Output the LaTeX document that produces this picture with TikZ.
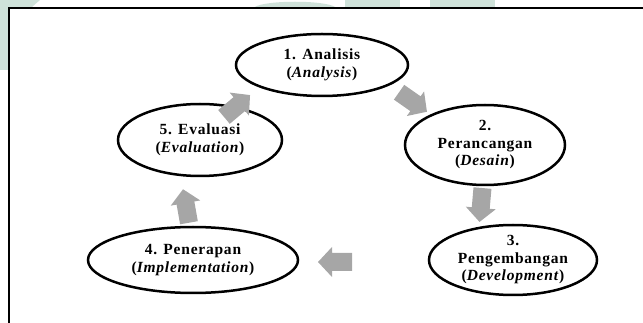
\documentclass[tikz,border=0pt]{standalone}
\usepackage{fontspec}
\setmainfont{Liberation Serif}[LetterSpace=5]
\usetikzlibrary{shapes.geometric}
\definecolor{arrowgray}{HTML}{A6A6A6}
\definecolor{wm}{HTML}{CFE2DA}
\begin{document}
\begin{tikzpicture}[x=1pt,y=-1pt,
  stage/.style={ellipse, draw=black, line width=2.5pt, inner sep=0pt, align=center,
    font=\fontsize{15.5}{17.5}\selectfont\bfseries},
  blockarrow/.pic={\fill[arrowgray] (-17,-9) -- (3,-9) -- (3,-15) -- (17,0)
      -- (3,15) -- (3,9) -- (-17,9) -- cycle;},
  frameline/.style={line width=1.8pt, black}]
\useasboundingbox (0,0) rectangle (643,323);
% faint watermark
\fill[wm] (0,0) -- (40,0) -- (32,7) -- (8,7) -- (8,70) -- (0,70) -- cycle;
\fill[wm] (255,7) .. controls (265,0) and (325,0) .. (335,7) -- cycle;
\fill[wm] (345,0) rectangle (400,7);
\fill[wm] (430,0) rectangle (495,7);
% frame
\coordinate (ftr) at (643,8);
\coordinate (ftl) at (9,8);
\coordinate (fbl) at (9,323);
\draw[frameline] (ftr) -- (ftl) -- (fbl);
% stages
\node[stage, minimum width=172pt, minimum height=62pt] (e1) at (322,65)
  {1. Analisis\\(\textit{Analysis})};
\node[stage, minimum width=164pt, minimum height=72pt] (e5) at (200,140)
  {5. Evaluasi\\(\textit{Evaluation})};
\node[stage, minimum width=160pt, minimum height=80pt] (e2) at (485,145)
  {2.\\Perancangan\\(\textit{Desain})};
\node[stage, minimum width=210pt, minimum height=66pt] (e4) at (193,260)
  {4. Penerapan\\(\textit{Implementation})};
\node[stage, minimum width=168pt, minimum height=70pt] (e3) at (513,260)
  {3.\\Pengembangan\\(\textit{Development})};
% flow arrows
\pic[rotate=40] (a51) at (237,106) {blockarrow};
\pic[rotate=-35] (a12) at (413,102) {blockarrow};
\pic[rotate=-95] (a23) at (481,205) {blockarrow};
\pic[rotate=180] (a34) at (335,262) {blockarrow};
\pic[rotate=100] (a45) at (186,206) {blockarrow};
\end{tikzpicture}
\end{document}
